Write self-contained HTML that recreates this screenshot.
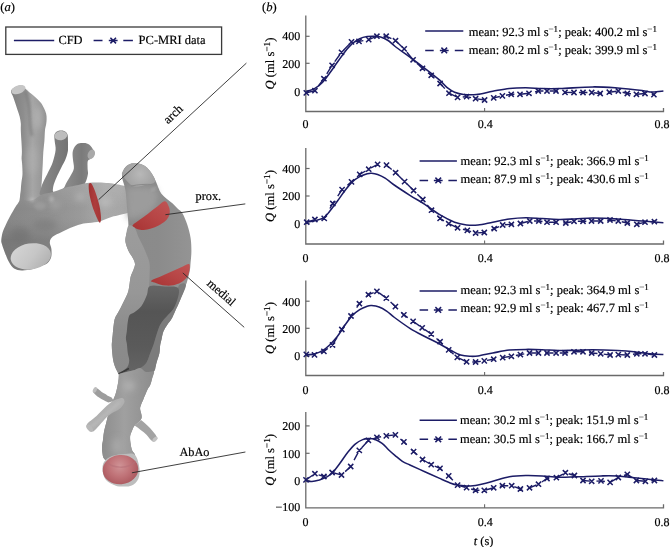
<!DOCTYPE html><html><head><meta charset="utf-8"><style>html,body{margin:0;padding:0;background:#fff;}svg{display:block;will-change:transform;} text{stroke:#000;stroke-width:0.18px;}</style></head><body><svg width="670" height="547" viewBox="0 0 670 547" font-family="Liberation Serif, serif" fill="#000" text-rendering="geometricPrecision">
<text x="262.0" y="11.2" font-size="12.6">(<tspan font-style="italic">b</tspan>)</text>
<path d="M305.8,15.5 V111.5 H663.5 V107.9" fill="none" stroke="#6a6a6a" stroke-width="1.3"/>
<path d="M484.6,111.5 v-3.6" stroke="#6a6a6a" stroke-width="1.1"/>
<path d="M305.8,36.3 h3.8" stroke="#6a6a6a" stroke-width="1.2"/>
<text x="300.3" y="40.4" font-size="12" text-anchor="end">400</text>
<path d="M305.8,63.3 h3.8" stroke="#6a6a6a" stroke-width="1.2"/>
<text x="300.3" y="67.7" font-size="12" text-anchor="end">200</text>
<path d="M305.8,91.0 h3.8" stroke="#6a6a6a" stroke-width="1.2"/>
<text x="300.3" y="95.8" font-size="12" text-anchor="end">0</text>
<text x="302.4" y="128.2" font-size="12">0</text>
<text x="477.8" y="128.2" font-size="12">0.4</text>
<text x="654.4" y="128.2" font-size="12">0.8</text>
<text transform="translate(273.6,63.5) rotate(-90)" font-size="12.6" text-anchor="middle"><tspan font-style="italic">Q</tspan> (ml s<tspan dy="-3.9" font-size="9.2">−1</tspan><tspan dy="3.9">)</tspan></text>
<path d="M306.3,91.4 C307.7,90.9 312.2,89.9 314.9,88.4 C317.6,86.9 319.9,85.1 322.4,82.5 C324.9,79.9 327.4,76.2 329.9,72.8 C332.4,69.4 334.8,65.8 337.3,62.3 C339.8,58.8 342.3,55.0 344.8,51.9 C347.3,48.8 349.7,45.9 352.2,43.7 C354.7,41.5 357.2,39.9 359.7,38.7 C362.2,37.5 364.7,37.0 367.2,36.6 C369.7,36.2 372.4,36.1 374.6,36.2 C376.8,36.3 378.4,36.3 380.6,37.0 C382.9,37.7 385.7,38.9 388.1,40.5 C390.5,42.1 391.6,43.7 395.2,46.5 C398.8,49.3 405.0,53.5 409.9,57.1 C414.8,60.7 419.8,64.5 424.8,68.3 C429.8,72.1 436.0,77.0 439.7,80.2 C443.4,83.4 444.7,85.7 447.2,87.7 C449.7,89.7 451.9,91.1 454.6,92.2 C457.3,93.3 460.0,94.0 463.6,94.4 C467.2,94.8 471.5,95.1 476.4,94.6 C481.3,94.1 487.3,92.3 492.8,91.3 C498.3,90.3 503.8,89.0 509.3,88.4 C514.8,87.8 520.2,87.7 525.7,87.7 C531.2,87.7 536.3,88.4 542.0,88.6 C547.7,88.8 551.5,88.9 560.0,88.6 C568.5,88.3 583.2,87.0 592.8,86.9 C602.4,86.8 609.3,87.4 617.5,88.0 C625.7,88.6 636.2,89.8 642.0,90.5 C647.8,91.2 648.4,91.9 652.0,92.0 C655.6,92.1 661.5,91.2 663.4,91.0" fill="none" stroke="#1c1c66" stroke-width="1.55"/>
<path d="M306.3,92.9 L314.9,90.7 L323.9,78.7 L332.1,65.3 L341.5,52.3 L351.5,41.9 L359.0,41.4 L368.7,39.6 L376.9,36.2 L386.2,36.2 L395.5,40.7 L404.2,48.9 L413.1,59.8 L422.5,68.3 L431.2,75.3 L440.1,83.5 L449.0,93.2 L457.6,97.4 L466.6,96.6 L475.6,98.7 L484.6,100.0 L493.7,97.9 L502.4,95.9 L511.2,94.3 L520.0,94.3 L529.0,93.3 L538.3,91.0 L547.0,91.0 L556.0,91.0 L565.0,92.4 L574.0,92.5 L583.0,92.5 L591.7,92.5 L600.2,93.5 L609.3,92.2 L618.3,91.0 L627.3,93.5 L636.4,94.3 L645.0,93.5 L653.9,94.6" fill="none" stroke="#1c1c66" stroke-width="1.4" stroke-dasharray="8.5 6.2"/>
<path d="M303.7,90.3L308.9,95.5M303.7,95.5L308.9,90.3M312.3,88.1L317.5,93.3M312.3,93.3L317.5,88.1M321.3,76.1L326.5,81.3M321.3,81.3L326.5,76.1M329.5,62.7L334.7,67.9M329.5,67.9L334.7,62.7M338.9,49.7L344.1,54.9M338.9,54.9L344.1,49.7M348.9,39.3L354.1,44.5M348.9,44.5L354.1,39.3M356.4,38.8L361.6,44.0M356.4,44.0L361.6,38.8M366.1,37.0L371.3,42.2M366.1,42.2L371.3,37.0M374.3,33.6L379.5,38.8M374.3,38.8L379.5,33.6M383.6,33.6L388.8,38.8M383.6,38.8L388.8,33.6M392.9,38.1L398.1,43.3M392.9,43.3L398.1,38.1M401.6,46.3L406.8,51.5M401.6,51.5L406.8,46.3M410.5,57.2L415.7,62.4M410.5,62.4L415.7,57.2M419.9,65.7L425.1,70.9M419.9,70.9L425.1,65.7M428.6,72.7L433.8,77.9M428.6,77.9L433.8,72.7M437.5,80.9L442.7,86.1M437.5,86.1L442.7,80.9M446.4,90.6L451.6,95.8M446.4,95.8L451.6,90.6M455.0,94.8L460.2,100.0M455.0,100.0L460.2,94.8M464.0,94.0L469.2,99.2M464.0,99.2L469.2,94.0M473.0,96.1L478.2,101.3M473.0,101.3L478.2,96.1M482.0,97.4L487.2,102.6M482.0,102.6L487.2,97.4M491.1,95.3L496.3,100.5M491.1,100.5L496.3,95.3M499.8,93.3L505.0,98.5M499.8,98.5L505.0,93.3M508.6,91.7L513.8,96.9M508.6,96.9L513.8,91.7M517.4,91.7L522.6,96.9M517.4,96.9L522.6,91.7M526.4,90.7L531.6,95.9M526.4,95.9L531.6,90.7M535.7,88.4L540.9,93.6M535.7,93.6L540.9,88.4M544.4,88.4L549.6,93.6M544.4,93.6L549.6,88.4M553.4,88.4L558.6,93.6M553.4,93.6L558.6,88.4M562.4,89.8L567.6,95.0M562.4,95.0L567.6,89.8M571.4,89.9L576.6,95.1M571.4,95.1L576.6,89.9M580.4,89.9L585.6,95.1M580.4,95.1L585.6,89.9M589.1,89.9L594.3,95.1M589.1,95.1L594.3,89.9M597.6,90.9L602.8,96.1M597.6,96.1L602.8,90.9M606.7,89.6L611.9,94.8M606.7,94.8L611.9,89.6M615.7,88.4L620.9,93.6M615.7,93.6L620.9,88.4M624.7,90.9L629.9,96.1M624.7,96.1L629.9,90.9M633.8,91.7L639.0,96.9M633.8,96.9L639.0,91.7M642.4,90.9L647.6,96.1M642.4,96.1L647.6,90.9M651.3,92.0L656.5,97.2M651.3,97.2L656.5,92.0" fill="none" stroke="#1c1c66" stroke-width="1.5"/>
<path d="M425.2,31.0 H463.3" stroke="#1c1c66" stroke-width="1.5"/>
<path d="M425.2,50.4 h8.5 M454.8,50.4 h8.5" stroke="#1c1c66" stroke-width="1.5"/>
<path d="M441.4,47.6L447.1,53.2M441.4,53.2L447.1,47.6 M439.85,50.4 h8.8" fill="none" stroke="#1c1c66" stroke-width="1.5"/>
<text x="468.7" y="35.6" font-size="12.5">mean: 92.3 ml s<tspan dy="-3.8" font-size="9">−1</tspan><tspan dy="3.8">; peak: 400.2 ml s</tspan><tspan dy="-3.8" font-size="9">−1</tspan></text>
<text x="468.7" y="53.8" font-size="12.5">mean: 80.2 ml s<tspan dy="-3.8" font-size="9">−1</tspan><tspan dy="3.8">; peak: 399.9 ml s</tspan><tspan dy="-3.8" font-size="9">−1</tspan></text>
<path d="M305.8,148.0 V244.0 H663.5 V240.4" fill="none" stroke="#6a6a6a" stroke-width="1.3"/>
<path d="M484.6,244.0 v-3.6" stroke="#6a6a6a" stroke-width="1.1"/>
<path d="M305.8,168.5 h3.8" stroke="#6a6a6a" stroke-width="1.2"/>
<text x="300.3" y="172.6" font-size="12" text-anchor="end">400</text>
<path d="M305.8,196.0 h3.8" stroke="#6a6a6a" stroke-width="1.2"/>
<text x="300.3" y="199.8" font-size="12" text-anchor="end">200</text>
<path d="M305.8,223.5 h3.8" stroke="#6a6a6a" stroke-width="1.2"/>
<text x="300.3" y="227.5" font-size="12" text-anchor="end">0</text>
<text x="302.4" y="261.9" font-size="12">0</text>
<text x="477.8" y="261.9" font-size="12">0.4</text>
<text x="654.4" y="261.9" font-size="12">0.8</text>
<text transform="translate(273.6,196.0) rotate(-90)" font-size="12.6" text-anchor="middle"><tspan font-style="italic">Q</tspan> (ml s<tspan dy="-3.9" font-size="9.2">−1</tspan><tspan dy="3.9">)</tspan></text>
<path d="M306.7,222.2 C308.1,221.9 312.0,221.4 314.9,220.7 C317.8,219.9 321.4,219.3 323.9,217.7 C326.4,216.1 327.7,213.7 329.9,211.0 C332.1,208.3 334.8,204.7 337.3,201.3 C339.8,197.9 342.3,194.0 344.8,190.8 C347.3,187.6 349.7,184.3 352.2,181.9 C354.7,179.5 357.2,178.0 359.7,176.6 C362.2,175.2 365.2,174.3 367.2,173.7 C369.2,173.1 369.9,173.1 371.6,173.2 C373.3,173.3 375.4,173.6 377.6,174.4 C379.9,175.2 382.5,176.4 385.1,178.1 C387.8,179.8 389.4,181.6 393.5,184.5 C397.6,187.4 404.7,192.0 409.9,195.3 C415.1,198.6 419.8,201.1 424.8,204.3 C429.8,207.5 434.7,211.7 439.7,214.7 C444.7,217.7 450.1,220.5 454.6,222.2 C459.1,223.9 462.7,224.4 466.6,224.9 C470.5,225.4 473.6,225.4 478.0,225.0 C482.4,224.6 487.6,223.2 492.8,222.2 C498.0,221.2 503.8,219.7 509.3,218.9 C514.8,218.2 520.2,217.8 525.7,217.7 C531.2,217.6 536.6,218.3 542.1,218.6 C547.6,218.9 553.0,219.3 558.5,219.4 C564.0,219.5 569.3,219.2 575.0,219.0 C580.7,218.8 585.7,218.0 592.8,218.0 C599.9,218.0 609.3,218.4 617.5,218.9 C625.7,219.4 634.5,220.4 642.1,221.0 C649.8,221.6 659.9,222.4 663.4,222.7" fill="none" stroke="#1c1c66" stroke-width="1.55"/>
<path d="M306.7,222.2 L314.9,219.5 L324.2,218.4 L332.8,203.5 L342.1,189.6 L351.5,181.9 L359.7,174.4 L368.7,169.2 L377.6,164.4 L386.5,165.1 L395.6,172.7 L404.6,181.6 L413.6,190.5 L422.8,199.5 L431.5,210.2 L440.1,218.4 L448.7,223.7 L457.6,227.8 L467.3,230.4 L475.6,233.0 L484.3,232.5 L494.2,228.7 L502.7,225.0 L511.4,224.3 L520.4,223.5 L529.8,221.0 L538.8,221.0 L547.0,222.2 L556.1,222.2 L565.8,223.0 L574.0,221.3 L583.0,221.3 L591.5,221.0 L600.7,221.0 L610.0,220.0 L618.3,221.0 L627.3,223.0 L636.8,224.3 L645.0,222.2 L654.4,221.7" fill="none" stroke="#1c1c66" stroke-width="1.4" stroke-dasharray="8.5 6.2"/>
<path d="M304.1,219.6L309.3,224.8M304.1,224.8L309.3,219.6M312.3,216.9L317.5,222.1M312.3,222.1L317.5,216.9M321.6,215.8L326.8,221.0M321.6,221.0L326.8,215.8M330.2,200.9L335.4,206.1M330.2,206.1L335.4,200.9M339.5,187.0L344.7,192.2M339.5,192.2L344.7,187.0M348.9,179.3L354.1,184.5M348.9,184.5L354.1,179.3M357.1,171.8L362.3,177.0M357.1,177.0L362.3,171.8M366.1,166.6L371.3,171.8M366.1,171.8L371.3,166.6M375.0,161.8L380.2,167.0M375.0,167.0L380.2,161.8M383.9,162.5L389.1,167.7M383.9,167.7L389.1,162.5M393.0,170.1L398.2,175.3M393.0,175.3L398.2,170.1M402.0,179.0L407.2,184.2M402.0,184.2L407.2,179.0M411.0,187.9L416.2,193.1M411.0,193.1L416.2,187.9M420.2,196.9L425.4,202.1M420.2,202.1L425.4,196.9M428.9,207.6L434.1,212.8M428.9,212.8L434.1,207.6M437.5,215.8L442.7,221.0M437.5,221.0L442.7,215.8M446.1,221.1L451.3,226.3M446.1,226.3L451.3,221.1M455.0,225.2L460.2,230.4M455.0,230.4L460.2,225.2M464.7,227.8L469.9,233.0M464.7,233.0L469.9,227.8M473.0,230.4L478.2,235.6M473.0,235.6L478.2,230.4M481.7,229.9L486.9,235.1M481.7,235.1L486.9,229.9M491.6,226.1L496.8,231.3M491.6,231.3L496.8,226.1M500.1,222.4L505.3,227.6M500.1,227.6L505.3,222.4M508.8,221.7L514.0,226.9M508.8,226.9L514.0,221.7M517.8,220.9L523.0,226.1M517.8,226.1L523.0,220.9M527.2,218.4L532.4,223.6M527.2,223.6L532.4,218.4M536.2,218.4L541.4,223.6M536.2,223.6L541.4,218.4M544.4,219.6L549.6,224.8M544.4,224.8L549.6,219.6M553.5,219.6L558.7,224.8M553.5,224.8L558.7,219.6M563.2,220.4L568.4,225.6M563.2,225.6L568.4,220.4M571.4,218.7L576.6,223.9M571.4,223.9L576.6,218.7M580.4,218.7L585.6,223.9M580.4,223.9L585.6,218.7M588.9,218.4L594.1,223.6M588.9,223.6L594.1,218.4M598.1,218.4L603.3,223.6M598.1,223.6L603.3,218.4M607.4,217.4L612.6,222.6M607.4,222.6L612.6,217.4M615.7,218.4L620.9,223.6M615.7,223.6L620.9,218.4M624.7,220.4L629.9,225.6M624.7,225.6L629.9,220.4M634.2,221.7L639.4,226.9M634.2,226.9L639.4,221.7M642.4,219.6L647.6,224.8M642.4,224.8L647.6,219.6M651.8,219.1L657.0,224.3M651.8,224.3L657.0,219.1" fill="none" stroke="#1c1c66" stroke-width="1.5"/>
<path d="M419.6,161.0 H456.9" stroke="#1c1c66" stroke-width="1.5"/>
<path d="M419.6,180.4 h8.5 M448.4,180.4 h8.5" stroke="#1c1c66" stroke-width="1.5"/>
<path d="M435.4,177.6L441.1,183.2M435.4,183.2L441.1,177.6 M433.85,180.4 h8.8" fill="none" stroke="#1c1c66" stroke-width="1.5"/>
<text x="460.6" y="164.6" font-size="12.5">mean: 92.3 ml s<tspan dy="-3.8" font-size="9">−1</tspan><tspan dy="3.8">; peak: 366.9 ml s</tspan><tspan dy="-3.8" font-size="9">−1</tspan></text>
<text x="460.6" y="183.0" font-size="12.5">mean: 87.9 ml s<tspan dy="-3.8" font-size="9">−1</tspan><tspan dy="3.8">; peak: 430.6 ml s</tspan><tspan dy="-3.8" font-size="9">−1</tspan></text>
<path d="M305.8,280.5 V375.5 H663.5 V371.9" fill="none" stroke="#6a6a6a" stroke-width="1.3"/>
<path d="M484.6,375.5 v-3.6" stroke="#6a6a6a" stroke-width="1.1"/>
<path d="M305.8,301.2 h3.8" stroke="#6a6a6a" stroke-width="1.2"/>
<text x="300.3" y="305.6" font-size="12" text-anchor="end">400</text>
<path d="M305.8,328.3 h3.8" stroke="#6a6a6a" stroke-width="1.2"/>
<text x="300.3" y="332.9" font-size="12" text-anchor="end">200</text>
<path d="M305.8,356.0 h3.8" stroke="#6a6a6a" stroke-width="1.2"/>
<text x="300.3" y="360.4" font-size="12" text-anchor="end">0</text>
<text x="302.4" y="393.9" font-size="12">0</text>
<text x="477.8" y="393.9" font-size="12">0.4</text>
<text x="654.4" y="393.9" font-size="12">0.8</text>
<text transform="translate(273.6,328.0) rotate(-90)" font-size="12.6" text-anchor="middle"><tspan font-style="italic">Q</tspan> (ml s<tspan dy="-3.9" font-size="9.2">−1</tspan><tspan dy="3.9">)</tspan></text>
<path d="M306.3,354.9 C307.7,354.7 312.2,354.4 314.9,353.7 C317.6,353.0 319.9,352.2 322.4,350.7 C324.9,349.2 327.4,347.1 329.9,344.7 C332.4,342.3 334.8,339.7 337.3,336.5 C339.8,333.3 342.3,328.8 344.8,325.3 C347.3,321.8 349.7,318.2 352.2,315.6 C354.7,313.0 357.2,311.2 359.7,309.6 C362.2,308.0 365.2,306.9 367.2,306.2 C369.2,305.5 369.6,305.5 371.6,305.6 C373.6,305.8 376.6,306.2 379.1,307.1 C381.6,308.0 384.0,309.4 386.6,311.1 C389.2,312.8 390.6,314.6 394.5,317.5 C398.4,320.4 404.8,325.1 409.9,328.3 C414.9,331.5 419.8,333.9 424.8,336.5 C429.8,339.1 435.2,341.6 439.7,344.0 C444.2,346.4 448.1,348.8 451.6,350.7 C455.1,352.6 457.6,354.2 460.6,355.1 C463.6,356.0 466.7,356.2 469.6,356.3 C472.5,356.4 474.1,356.6 478.0,356.0 C481.9,355.4 487.6,354.0 492.8,353.0 C498.0,352.0 503.8,350.6 509.3,350.0 C514.8,349.4 520.2,349.4 525.7,349.4 C531.2,349.3 536.6,349.5 542.1,349.7 C547.6,349.9 553.0,350.4 558.5,350.5 C564.0,350.6 569.3,350.4 575.0,350.3 C580.7,350.2 585.7,349.7 592.8,349.7 C599.9,349.7 610.6,350.1 617.5,350.5 C624.4,350.9 628.4,351.2 633.9,351.8 C639.4,352.4 645.4,353.3 650.3,353.8 C655.2,354.3 661.2,354.5 663.4,354.6" fill="none" stroke="#1c1c66" stroke-width="1.55"/>
<path d="M306.3,354.4 L314.5,354.9 L323.9,351.4 L332.5,345.0 L341.8,329.5 L351.0,316.0 L359.4,303.7 L368.4,294.7 L376.9,291.3 L386.3,298.1 L395.4,306.6 L403.9,314.9 L413.1,321.3 L422.2,327.8 L431.2,334.0 L440.1,341.7 L448.7,349.9 L457.3,357.4 L466.6,361.8 L475.6,362.0 L484.3,360.9 L493.7,359.2 L502.7,357.6 L511.4,356.3 L520.4,354.6 L529.5,353.0 L538.5,353.0 L547.0,353.0 L556.1,353.0 L565.0,353.0 L574.0,351.8 L583.0,351.8 L591.7,353.0 L600.7,353.8 L610.1,355.0 L618.3,354.6 L627.3,355.0 L636.8,353.8 L645.0,353.8 L654.4,355.0" fill="none" stroke="#1c1c66" stroke-width="1.4" stroke-dasharray="8.5 6.2"/>
<path d="M303.7,351.8L308.9,357.0M303.7,357.0L308.9,351.8M311.9,352.3L317.1,357.5M311.9,357.5L317.1,352.3M321.3,348.8L326.5,354.0M321.3,354.0L326.5,348.8M329.9,342.4L335.1,347.6M329.9,347.6L335.1,342.4M339.2,326.9L344.4,332.1M339.2,332.1L344.4,326.9M348.4,313.4L353.6,318.6M348.4,318.6L353.6,313.4M356.8,301.1L362.0,306.3M356.8,306.3L362.0,301.1M365.8,292.1L371.0,297.3M365.8,297.3L371.0,292.1M374.3,288.7L379.5,293.9M374.3,293.9L379.5,288.7M383.7,295.5L388.9,300.7M383.7,300.7L388.9,295.5M392.8,304.0L398.0,309.2M392.8,309.2L398.0,304.0M401.3,312.3L406.5,317.5M401.3,317.5L406.5,312.3M410.5,318.7L415.7,323.9M410.5,323.9L415.7,318.7M419.6,325.2L424.8,330.4M419.6,330.4L424.8,325.2M428.6,331.4L433.8,336.6M428.6,336.6L433.8,331.4M437.5,339.1L442.7,344.3M437.5,344.3L442.7,339.1M446.1,347.3L451.3,352.5M446.1,352.5L451.3,347.3M454.7,354.8L459.9,360.0M454.7,360.0L459.9,354.8M464.0,359.2L469.2,364.4M464.0,364.4L469.2,359.2M473.0,359.4L478.2,364.6M473.0,364.6L478.2,359.4M481.7,358.3L486.9,363.5M481.7,363.5L486.9,358.3M491.1,356.6L496.3,361.8M491.1,361.8L496.3,356.6M500.1,355.0L505.3,360.2M500.1,360.2L505.3,355.0M508.8,353.7L514.0,358.9M508.8,358.9L514.0,353.7M517.8,352.0L523.0,357.2M517.8,357.2L523.0,352.0M526.9,350.4L532.1,355.6M526.9,355.6L532.1,350.4M535.9,350.4L541.1,355.6M535.9,355.6L541.1,350.4M544.4,350.4L549.6,355.6M544.4,355.6L549.6,350.4M553.5,350.4L558.7,355.6M553.5,355.6L558.7,350.4M562.4,350.4L567.6,355.6M562.4,355.6L567.6,350.4M571.4,349.2L576.6,354.4M571.4,354.4L576.6,349.2M580.4,349.2L585.6,354.4M580.4,354.4L585.6,349.2M589.1,350.4L594.3,355.6M589.1,355.6L594.3,350.4M598.1,351.2L603.3,356.4M598.1,356.4L603.3,351.2M607.5,352.4L612.7,357.6M607.5,357.6L612.7,352.4M615.7,352.0L620.9,357.2M615.7,357.2L620.9,352.0M624.7,352.4L629.9,357.6M624.7,357.6L629.9,352.4M634.2,351.2L639.4,356.4M634.2,356.4L639.4,351.2M642.4,351.2L647.6,356.4M642.4,356.4L647.6,351.2M651.8,352.4L657.0,357.6M651.8,357.6L657.0,352.4" fill="none" stroke="#1c1c66" stroke-width="1.5"/>
<path d="M419.6,291.0 H456.9" stroke="#1c1c66" stroke-width="1.5"/>
<path d="M419.6,309.9 h8.5 M448.4,309.9 h8.5" stroke="#1c1c66" stroke-width="1.5"/>
<path d="M435.4,307.1L441.1,312.7M435.4,312.7L441.1,307.1 M433.85,309.9 h8.8" fill="none" stroke="#1c1c66" stroke-width="1.5"/>
<text x="460.6" y="293.9" font-size="12.5">mean: 92.3 ml s<tspan dy="-3.8" font-size="9">−1</tspan><tspan dy="3.8">; peak: 364.9 ml s</tspan><tspan dy="-3.8" font-size="9">−1</tspan></text>
<text x="460.6" y="312.2" font-size="12.5">mean: 92.9 ml s<tspan dy="-3.8" font-size="9">−1</tspan><tspan dy="3.8">; peak: 467.7 ml s</tspan><tspan dy="-3.8" font-size="9">−1</tspan></text>
<path d="M305.8,412.0 V507.9 H663.5 V504.29999999999995" fill="none" stroke="#6a6a6a" stroke-width="1.3"/>
<path d="M484.6,507.9 v-3.6" stroke="#6a6a6a" stroke-width="1.1"/>
<path d="M305.8,425.9 h3.8" stroke="#6a6a6a" stroke-width="1.2"/>
<text x="300.3" y="430.4" font-size="12" text-anchor="end">200</text>
<path d="M305.8,453.3 h3.8" stroke="#6a6a6a" stroke-width="1.2"/>
<text x="300.3" y="457.8" font-size="12" text-anchor="end">100</text>
<path d="M305.8,480.5 h3.8" stroke="#6a6a6a" stroke-width="1.2"/>
<text x="300.3" y="484.6" font-size="12" text-anchor="end">0</text>
<text x="300.3" y="511.4" font-size="12" text-anchor="end">−100</text>
<text x="302.4" y="526.0" font-size="12">0</text>
<text x="477.8" y="526.0" font-size="12">0.4</text>
<text x="654.4" y="526.0" font-size="12">0.8</text>
<text transform="translate(273.6,459.9) rotate(-90)" font-size="12.6" text-anchor="middle"><tspan font-style="italic">Q</tspan> (ml s<tspan dy="-3.9" font-size="9.2">−1</tspan><tspan dy="3.9">)</tspan></text>
<path d="M306.0,480.7 C307.0,480.8 309.7,481.5 311.9,481.4 C314.1,481.3 316.9,480.6 319.4,479.9 C321.9,479.1 324.7,478.1 326.9,476.9 C329.1,475.7 330.6,474.9 332.8,472.5 C335.0,470.1 337.8,466.2 340.3,462.8 C342.8,459.4 345.3,455.4 347.8,452.3 C350.3,449.2 352.7,446.2 355.2,444.1 C357.7,442.0 360.4,440.5 362.7,439.6 C364.9,438.7 366.7,438.7 368.7,438.6 C370.7,438.6 372.4,438.5 374.6,439.3 C376.8,440.1 379.8,441.7 382.1,443.4 C384.4,445.1 386.4,447.7 388.5,449.7 C390.6,451.7 392.6,453.4 394.9,455.3 C397.2,457.2 399.9,459.7 402.4,461.3 C404.9,462.9 406.2,463.3 409.9,465.0 C413.6,466.7 419.8,469.5 424.8,471.7 C429.8,473.9 435.5,476.5 439.7,478.4 C443.9,480.3 447.1,481.8 450.1,482.9 C453.1,484.0 454.9,484.6 457.6,485.1 C460.4,485.6 463.6,485.8 466.6,485.9 C469.6,486.0 471.1,486.4 475.5,485.6 C479.9,484.8 487.2,482.8 492.8,481.3 C498.4,479.8 503.8,477.8 509.3,476.8 C514.8,475.8 520.2,475.6 525.7,475.5 C531.2,475.4 536.6,475.6 542.1,475.9 C547.6,476.2 552.8,477.0 558.5,477.2 C564.2,477.4 569.3,477.0 576.4,476.8 C583.5,476.6 594.1,476.0 601.0,475.9 C607.9,475.8 612.0,475.7 617.5,476.0 C623.0,476.3 628.4,477.1 633.9,477.7 C639.4,478.3 645.4,479.1 650.3,479.6 C655.2,480.1 661.2,480.6 663.4,480.8" fill="none" stroke="#1c1c66" stroke-width="1.55"/>
<path d="M306.0,479.9 L314.9,473.7 L323.9,476.5 L332.1,472.5 L341.5,475.0 L350.7,466.5 L359.3,450.4 L368.4,440.4 L376.9,437.4 L386.3,435.9 L395.4,434.9 L403.9,441.9 L413.6,451.6 L422.5,459.5 L431.2,464.7 L440.0,468.4 L448.7,475.9 L457.6,485.1 L466.6,487.6 L475.6,490.3 L484.3,490.3 L493.7,487.8 L502.4,485.7 L511.7,485.7 L520.4,489.0 L529.5,487.8 L538.5,484.2 L547.0,478.5 L556.4,477.7 L565.4,472.7 L574.4,475.5 L583.0,480.5 L591.7,481.3 L601.0,480.9 L610.1,482.4 L618.3,477.5 L627.3,474.4 L636.4,480.5 L645.4,481.3 L654.4,480.5" fill="none" stroke="#1c1c66" stroke-width="1.4" stroke-dasharray="8.5 6.2"/>
<path d="M303.4,477.3L308.6,482.5M303.4,482.5L308.6,477.3M312.3,471.1L317.5,476.3M312.3,476.3L317.5,471.1M321.3,473.9L326.5,479.1M321.3,479.1L326.5,473.9M329.5,469.9L334.7,475.1M329.5,475.1L334.7,469.9M338.9,472.4L344.1,477.6M338.9,477.6L344.1,472.4M348.1,463.9L353.3,469.1M348.1,469.1L353.3,463.9M356.7,447.8L361.9,453.0M356.7,453.0L361.9,447.8M365.8,437.8L371.0,443.0M365.8,443.0L371.0,437.8M374.3,434.8L379.5,440.0M374.3,440.0L379.5,434.8M383.7,433.3L388.9,438.5M383.7,438.5L388.9,433.3M392.8,432.3L398.0,437.5M392.8,437.5L398.0,432.3M401.3,439.3L406.5,444.5M401.3,444.5L406.5,439.3M411.0,449.0L416.2,454.2M411.0,454.2L416.2,449.0M419.9,456.9L425.1,462.1M419.9,462.1L425.1,456.9M428.6,462.1L433.8,467.3M428.6,467.3L433.8,462.1M437.4,465.8L442.6,471.0M437.4,471.0L442.6,465.8M446.1,473.3L451.3,478.5M446.1,478.5L451.3,473.3M455.0,482.5L460.2,487.7M455.0,487.7L460.2,482.5M464.0,485.0L469.2,490.2M464.0,490.2L469.2,485.0M473.0,487.7L478.2,492.9M473.0,492.9L478.2,487.7M481.7,487.7L486.9,492.9M481.7,492.9L486.9,487.7M491.1,485.2L496.3,490.4M491.1,490.4L496.3,485.2M499.8,483.1L505.0,488.3M499.8,488.3L505.0,483.1M509.1,483.1L514.3,488.3M509.1,488.3L514.3,483.1M517.8,486.4L523.0,491.6M517.8,491.6L523.0,486.4M526.9,485.2L532.1,490.4M526.9,490.4L532.1,485.2M535.9,481.6L541.1,486.8M535.9,486.8L541.1,481.6M544.4,475.9L549.6,481.1M544.4,481.1L549.6,475.9M553.8,475.1L559.0,480.3M553.8,480.3L559.0,475.1M562.8,470.1L568.0,475.3M562.8,475.3L568.0,470.1M571.8,472.9L577.0,478.1M571.8,478.1L577.0,472.9M580.4,477.9L585.6,483.1M580.4,483.1L585.6,477.9M589.1,478.7L594.3,483.9M589.1,483.9L594.3,478.7M598.4,478.3L603.6,483.5M598.4,483.5L603.6,478.3M607.5,479.8L612.7,485.0M607.5,485.0L612.7,479.8M615.7,474.9L620.9,480.1M615.7,480.1L620.9,474.9M624.7,471.8L629.9,477.0M624.7,477.0L629.9,471.8M633.8,477.9L639.0,483.1M633.8,483.1L639.0,477.9M642.8,478.7L648.0,483.9M642.8,483.9L648.0,478.7M651.8,477.9L657.0,483.1M651.8,483.1L657.0,477.9" fill="none" stroke="#1c1c66" stroke-width="1.5"/>
<path d="M419.6,420.2 H456.9" stroke="#1c1c66" stroke-width="1.5"/>
<path d="M419.6,439.3 h8.5 M448.4,439.3 h8.5" stroke="#1c1c66" stroke-width="1.5"/>
<path d="M435.4,436.5L441.1,442.1M435.4,442.1L441.1,436.5 M433.85,439.3 h8.8" fill="none" stroke="#1c1c66" stroke-width="1.5"/>
<text x="460.0" y="424.2" font-size="12.5">mean: 30.2 ml s<tspan dy="-3.8" font-size="9">−1</tspan><tspan dy="3.8">; peak: 151.9 ml s</tspan><tspan dy="-3.8" font-size="9">−1</tspan></text>
<text x="460.0" y="442.8" font-size="12.5">mean: 30.5 ml s<tspan dy="-3.8" font-size="9">−1</tspan><tspan dy="3.8">; peak: 166.7 ml s</tspan><tspan dy="-3.8" font-size="9">−1</tspan></text>
<text x="473.8" y="545.3" font-size="12.4"><tspan font-style="italic">t</tspan> (s)</text>
<text x="0.3" y="11.2" font-size="12.6">(<tspan font-style="italic">a</tspan>)</text>
<rect x="5.8" y="27" width="215.8" height="27.4" fill="none" stroke="#3a3a3a" stroke-width="1.3"/>
<path d="M13.9,40.6 H54.2" stroke="#1c1c66" stroke-width="1.5"/>
<text x="58.4" y="43.9" font-size="12.4">CFD</text>
<path d="M93.6,40.6 H102.5 M123.3,40.6 H132.9" stroke="#1c1c66" stroke-width="1.5"/>
<path d="M110.4,37.8L116.0,43.4M110.4,43.4L116.0,37.8 M108.8,40.6 h8.8" fill="none" stroke="#1c1c66" stroke-width="1.5"/>
<text x="138.6" y="43.9" font-size="12.5">PC-MRI data</text>
<g id="aorta"><defs>
<linearGradient id="gBCA" x1="11" y1="0" x2="47" y2="0" gradientUnits="userSpaceOnUse">
 <stop offset="0" stop-color="#7e7e7e"/><stop offset="0.35" stop-color="#8e8e8e"/><stop offset="0.6" stop-color="#a6a6a6"/><stop offset="1" stop-color="#909090"/></linearGradient>
<linearGradient id="gLCCA" x1="40" y1="0" x2="68" y2="0" gradientUnits="userSpaceOnUse">
 <stop offset="0" stop-color="#8a8a8a"/><stop offset="1" stop-color="#737373"/></linearGradient>
<linearGradient id="gLSA" x1="69" y1="0" x2="94" y2="0" gradientUnits="userSpaceOnUse">
 <stop offset="0" stop-color="#888"/><stop offset="0.5" stop-color="#7b7b7b"/><stop offset="1" stop-color="#8a8a8a"/></linearGradient>
<linearGradient id="gArch" x1="0" y1="0" x2="135" y2="0" gradientUnits="userSpaceOnUse">
 <stop offset="0" stop-color="#848484"/><stop offset="0.35" stop-color="#8e8e8e"/><stop offset="0.6" stop-color="#999"/><stop offset="0.78" stop-color="#a9a9a9"/><stop offset="1" stop-color="#a4a4a4"/></linearGradient>
<linearGradient id="gArchV" x1="0" y1="183" x2="0" y2="240" gradientUnits="userSpaceOnUse">
 <stop offset="0" stop-color="#fff" stop-opacity="0.10"/><stop offset="0.45" stop-color="#fff" stop-opacity="0.0"/><stop offset="1" stop-color="#000" stop-opacity="0.10"/></linearGradient>
<filter id="bl1" x="-50%" y="-50%" width="200%" height="200%"><feGaussianBlur stdDeviation="1.6"/></filter>
<filter id="bl2" x="-50%" y="-50%" width="200%" height="200%"><feGaussianBlur stdDeviation="3"/></filter>
<linearGradient id="gArchR" x1="0" y1="183" x2="0" y2="223" gradientUnits="userSpaceOnUse">
 <stop offset="0" stop-color="#a0a0a0"/><stop offset="0.4" stop-color="#b0b0b0"/><stop offset="1" stop-color="#8e8e8e"/></linearGradient>
<radialGradient id="gDome" cx="140" cy="174" r="20" gradientUnits="userSpaceOnUse">
 <stop offset="0" stop-color="#b8b8b8"/><stop offset="1" stop-color="#9a9a9a"/></radialGradient>
<linearGradient id="gAsc" x1="15" y1="244" x2="40" y2="270" gradientUnits="userSpaceOnUse">
 <stop offset="0" stop-color="#d4d4d4"/><stop offset="0.6" stop-color="#c6c6c6"/><stop offset="1" stop-color="#b4b4b4"/></linearGradient>
<linearGradient id="gStrip" x1="0" y1="226" x2="0" y2="374" gradientUnits="userSpaceOnUse">
 <stop offset="0" stop-color="#9c9c9c"/><stop offset="0.45" stop-color="#979797"/><stop offset="0.7" stop-color="#8c8c8c"/><stop offset="1" stop-color="#8a8a8a"/></linearGradient>
<linearGradient id="gDesc" x1="125" y1="0" x2="192" y2="0" gradientUnits="userSpaceOnUse">
 <stop offset="0" stop-color="#8a8a8a"/><stop offset="0.5" stop-color="#8b8b8b"/><stop offset="1" stop-color="#949494"/></linearGradient>
<linearGradient id="gDark" x1="0" y1="286" x2="0" y2="372" gradientUnits="userSpaceOnUse">
 <stop offset="0" stop-color="#666"/><stop offset="0.3" stop-color="#555"/><stop offset="0.7" stop-color="#5a5a5a"/><stop offset="1" stop-color="#646464"/></linearGradient>
<linearGradient id="gAbd" x1="103" y1="0" x2="150" y2="0" gradientUnits="userSpaceOnUse">
 <stop offset="0" stop-color="#8e8e8e"/><stop offset="0.45" stop-color="#a0a0a0"/><stop offset="1" stop-color="#8f8f8f"/></linearGradient>
<linearGradient id="gRen" x1="0" y1="0" x2="1" y2="1">
 <stop offset="0" stop-color="#a8a8a8"/><stop offset="0.5" stop-color="#b2b2b2"/><stop offset="1" stop-color="#9c9c9c"/></linearGradient>
<radialGradient id="gAb" cx="120" cy="466" r="19" gradientUnits="userSpaceOnUse">
 <stop offset="0" stop-color="#cf9396"/><stop offset="0.55" stop-color="#c07378"/><stop offset="1" stop-color="#ad5a60"/></radialGradient>

<linearGradient id="gRed" x1="1" y1="0" x2="0" y2="1"><stop offset="0" stop-color="#c25252"/><stop offset="0.5" stop-color="#b84242"/><stop offset="1" stop-color="#a83030"/></linearGradient>
<linearGradient id="gRedA" x1="0" y1="0" x2="1" y2="0"><stop offset="0" stop-color="#a03030"/><stop offset="0.5" stop-color="#ad3d3d"/><stop offset="1" stop-color="#a43636"/></linearGradient>
</defs><path d="M11.0,92.0 C11.2,93.3 12.5,95.0 13.2,96.9 C13.9,98.8 14.7,101.3 15.4,103.5 C16.1,105.7 16.8,107.9 17.5,110.1 C18.2,112.3 19.1,114.5 19.7,116.7 C20.2,118.9 20.6,121.1 20.8,123.3 C21.0,125.5 20.7,127.0 20.8,130.0 C20.9,132.9 21.2,137.3 21.4,141.0 C21.6,144.7 21.9,149.0 21.9,151.9 C21.9,154.8 21.6,156.3 21.6,158.5 C21.7,160.7 22.1,162.4 22.2,165.0 C22.3,167.6 22.6,171.0 22.5,173.9 C22.4,176.8 21.7,179.9 21.4,182.6 C21.1,185.3 20.9,187.4 20.8,190.0 C20.7,192.6 19.4,195.8 20.6,198.0 C21.8,200.2 24.4,203.0 28.0,203.0 C31.6,203.0 39.8,200.2 42.0,198.0 C44.2,195.8 41.1,192.6 41.1,190.0 C41.1,187.4 41.5,185.3 41.7,182.6 C41.9,179.9 42.0,177.2 42.2,173.9 C42.4,170.6 42.6,166.6 42.8,162.9 C43.0,159.2 43.0,155.6 43.3,151.9 C43.6,148.2 44.1,144.7 44.4,141.0 C44.7,137.3 44.7,132.8 45.0,130.0 C45.3,127.2 45.8,126.2 46.1,124.4 C46.4,122.6 46.6,120.7 46.6,118.9 C46.6,117.1 46.6,115.2 46.1,113.4 C45.6,111.6 44.8,109.7 43.9,107.9 C43.0,106.1 42.1,104.2 40.6,102.4 C39.1,100.6 37.1,98.7 35.1,96.9 C33.1,95.1 30.1,92.9 28.5,91.5 C26.9,90.1 26.3,89.5 25.2,88.5 C24.1,87.5 23.4,85.9 22.0,85.6 C20.6,85.2 18.1,85.8 16.5,86.4 C14.9,87.0 13.2,88.1 12.3,89.0 C11.4,89.9 10.8,90.7 11.0,92.0Z" fill="url(#gBCA)" />
<ellipse cx="18.4" cy="89.6" rx="7.4" ry="4.2" transform="rotate(-20 18.4 89.6)" fill="#c6c6c6" />
<path d="M25.5,91 C28,100 30,110 30,120 C30,126 31,130 32,136" fill="none" stroke="#6e6e6e" stroke-width="2.6" opacity="0.6" filter="url(#bl1)"/>
<g filter="url(#bl2)" opacity="0.6"><ellipse cx="38" cy="118" rx="4" ry="12" fill="#bdbdbd"/><ellipse cx="32" cy="160" rx="6" ry="14" fill="#b0b0b0"/></g>
<path d="M54.3,136.5 C54.3,137.9 54.6,139.7 54.8,141.9 C55.0,144.2 55.9,146.7 55.6,150.0 C55.3,153.3 54.0,158.2 52.8,161.9 C51.6,165.6 49.7,168.8 48.2,172.0 C46.7,175.2 44.9,178.4 43.7,181.1 C42.5,183.8 41.4,186.1 40.9,188.4 C40.4,190.7 38.5,193.9 40.5,195.0 C42.5,196.1 51.0,195.8 53.0,195.0 C55.0,194.2 52.7,192.0 52.8,190.3 C52.9,188.6 53.1,187.0 53.7,184.8 C54.3,182.7 55.3,180.2 56.5,177.4 C57.7,174.7 59.5,171.4 61.0,168.3 C62.5,165.2 64.5,161.8 65.6,159.1 C66.7,156.4 67.3,153.8 67.7,152.0 C68.1,150.2 68.0,150.2 68.0,148.5 C68.0,146.8 68.1,144.3 68.0,141.9 C67.9,139.5 68.1,136.1 67.4,134.3 C66.7,132.5 65.6,131.6 64.0,131.0 C62.4,130.4 59.5,130.6 58.0,131.0 C56.5,131.4 55.6,132.6 55.0,133.5 C54.4,134.4 54.3,135.1 54.3,136.5Z" fill="url(#gLCCA)" />
<ellipse cx="60.8" cy="135.6" rx="6.4" ry="4.6" transform="rotate(-8 60.8 135.6)" fill="#bdbdbd" />
<path d="M72.9,150.7 C72.2,153.2 72.7,156.2 72.9,159.1 C73.1,162.0 74.2,165.7 73.9,168.3 C73.6,170.9 72.2,172.6 71.1,174.7 C70.0,176.8 68.5,179.1 67.4,181.1 C66.3,183.1 65.4,184.8 64.7,186.6 C64.0,188.4 59.8,191.1 63.0,192.0 C66.2,192.9 80.7,192.9 84.0,192.0 C87.3,191.1 82.9,187.9 83.0,186.6 C83.1,185.2 84.2,185.1 84.8,183.9 C85.4,182.7 86.2,181.0 86.7,179.3 C87.2,177.6 87.8,175.6 88.0,173.8 C88.2,172.0 87.6,170.4 87.6,168.3 C87.6,166.2 87.3,162.6 87.8,161.0 C88.3,159.4 89.4,159.9 90.5,158.9 C91.6,157.9 93.8,156.5 94.3,155.1 C94.8,153.7 94.5,152.4 93.7,150.7 C92.9,149.0 91.0,146.0 89.4,144.7 C87.8,143.4 85.9,143.1 83.9,143.0 C81.9,142.9 79.1,142.8 77.3,144.1 C75.5,145.4 73.6,148.2 72.9,150.7Z" fill="url(#gLSA)" />
<ellipse cx="91.3" cy="154.2" rx="3.4" ry="5.0" transform="rotate(25 91.3 154.2)" fill="#a9a9a9" />
<path d="M20.7,195.5 C19.7,195.6 20.1,199.3 19.2,201.2 C18.3,203.1 16.9,204.5 15.4,207.0 C13.9,209.5 11.7,213.2 10.2,216.0 C8.7,218.8 7.7,220.8 6.4,223.6 C5.1,226.4 3.5,229.8 2.6,232.6 C1.8,235.4 1.4,238.4 1.3,240.3 C1.2,242.2 1.3,241.8 1.9,244.0 C2.5,246.2 3.9,250.2 5.1,253.2 C6.3,256.2 7.5,259.6 9.0,262.1 C10.5,264.7 12.0,267.1 14.1,268.5 C16.2,269.9 18.8,270.3 21.8,270.4 C24.8,270.5 28.8,269.9 32.0,269.2 C35.2,268.5 38.4,267.0 41.0,266.0 C43.6,265.0 45.9,264.5 47.6,263.0 C49.3,261.5 50.6,259.3 51.2,257.0 C51.8,254.7 51.6,251.3 51.4,249.0 C51.2,246.7 49.9,244.8 49.8,243.0 C49.7,241.2 50.1,239.8 51.0,238.5 C51.9,237.2 53.0,236.4 55.0,235.2 C57.0,234.0 60.2,232.6 62.7,231.4 C65.2,230.2 67.5,229.1 70.0,228.0 C72.5,226.9 75.4,225.8 78.0,225.0 C80.6,224.2 82.4,223.8 85.6,223.3 C88.8,222.8 93.9,222.7 97.1,222.1 C100.3,221.5 102.0,220.5 104.8,219.5 C107.6,218.5 110.9,217.2 113.7,216.3 C116.5,215.5 118.7,215.2 121.4,214.4 C124.1,213.6 127.9,213.6 130.0,211.2 C132.1,208.8 134.0,203.9 134.0,200.0 C134.0,196.1 131.9,190.4 130.0,188.0 C128.1,185.6 125.0,186.2 122.7,185.6 C120.4,185.0 118.7,184.7 116.3,184.3 C113.9,183.9 111.6,183.3 108.6,183.0 C105.6,182.7 102.0,182.4 98.4,182.4 C94.8,182.4 90.7,182.5 86.9,183.0 C83.1,183.5 79.4,184.7 75.4,185.6 C71.4,186.5 66.7,187.3 62.9,188.4 C59.1,189.5 56.3,191.1 52.8,192.1 C49.3,193.1 45.1,193.3 42.0,194.5 C38.9,195.7 36.8,198.5 34.0,199.5 C31.2,200.5 27.2,201.2 25.0,200.5 C22.8,199.8 21.7,195.4 20.7,195.5Z" fill="url(#gArch)" />
<path d="M20.7,195.5 C19.7,195.6 20.1,199.3 19.2,201.2 C18.3,203.1 16.9,204.5 15.4,207.0 C13.9,209.5 11.7,213.2 10.2,216.0 C8.7,218.8 7.7,220.8 6.4,223.6 C5.1,226.4 3.5,229.8 2.6,232.6 C1.8,235.4 1.4,238.4 1.3,240.3 C1.2,242.2 1.3,241.8 1.9,244.0 C2.5,246.2 3.9,250.2 5.1,253.2 C6.3,256.2 7.5,259.6 9.0,262.1 C10.5,264.7 12.0,267.1 14.1,268.5 C16.2,269.9 18.8,270.3 21.8,270.4 C24.8,270.5 28.8,269.9 32.0,269.2 C35.2,268.5 38.4,267.0 41.0,266.0 C43.6,265.0 45.9,264.5 47.6,263.0 C49.3,261.5 50.6,259.3 51.2,257.0 C51.8,254.7 51.6,251.3 51.4,249.0 C51.2,246.7 49.9,244.8 49.8,243.0 C49.7,241.2 50.1,239.8 51.0,238.5 C51.9,237.2 53.0,236.4 55.0,235.2 C57.0,234.0 60.2,232.6 62.7,231.4 C65.2,230.2 67.5,229.1 70.0,228.0 C72.5,226.9 75.4,225.8 78.0,225.0 C80.6,224.2 82.4,223.8 85.6,223.3 C88.8,222.8 93.9,222.7 97.1,222.1 C100.3,221.5 102.0,220.5 104.8,219.5 C107.6,218.5 110.9,217.2 113.7,216.3 C116.5,215.5 118.7,215.2 121.4,214.4 C124.1,213.6 127.9,213.6 130.0,211.2 C132.1,208.8 134.0,203.9 134.0,200.0 C134.0,196.1 131.9,190.4 130.0,188.0 C128.1,185.6 125.0,186.2 122.7,185.6 C120.4,185.0 118.7,184.7 116.3,184.3 C113.9,183.9 111.6,183.3 108.6,183.0 C105.6,182.7 102.0,182.4 98.4,182.4 C94.8,182.4 90.7,182.5 86.9,183.0 C83.1,183.5 79.4,184.7 75.4,185.6 C71.4,186.5 66.7,187.3 62.9,188.4 C59.1,189.5 56.3,191.1 52.8,192.1 C49.3,193.1 45.1,193.3 42.0,194.5 C38.9,195.7 36.8,198.5 34.0,199.5 C31.2,200.5 27.2,201.2 25.0,200.5 C22.8,199.8 21.7,195.4 20.7,195.5Z" fill="url(#gArchV)"/>
<g filter="url(#bl2)" opacity="0.55"><ellipse cx="80" cy="197" rx="5" ry="3.5" fill="#c4c4c4"/><ellipse cx="105" cy="202" rx="7" ry="5" fill="#c4c4c4"/><ellipse cx="55" cy="205" rx="5" ry="4" fill="#b0b0b0"/><ellipse cx="33" cy="200" rx="4" ry="3" fill="#b0b0b0"/></g>
<g filter="url(#bl1)" opacity="0.7"><ellipse cx="32" cy="199.5" rx="2.5" ry="1.6" fill="#c8c8c8"/><ellipse cx="51.5" cy="199" rx="2" ry="3" fill="#bdbdbd"/><ellipse cx="40" cy="206" rx="6" ry="4" fill="#a0a0a0"/></g>
<g filter="url(#bl2)" opacity="0.5"><ellipse cx="20" cy="235" rx="10" ry="8" fill="#6e6e6e"/><ellipse cx="45" cy="225" rx="12" ry="6" fill="#777"/></g>
<ellipse cx="30.8" cy="256.4" rx="20.3" ry="13.0" transform="rotate(-9 30.8 256.4)" fill="url(#gAsc)" />
<path d="M122.2,178.0 C121.8,174.9 122.1,173.6 122.8,171.6 C123.5,169.6 124.9,167.3 126.6,165.9 C128.3,164.5 130.7,163.6 133.0,163.3 C135.3,163.0 138.3,163.2 140.7,164.0 C143.0,164.8 145.2,166.1 147.1,167.8 C149.0,169.5 150.7,171.8 152.2,174.2 C153.7,176.5 155.0,179.6 156.1,181.9 C157.2,184.2 157.8,186.4 158.6,188.3 C159.4,190.2 159.9,191.7 161.2,193.4 C162.5,195.1 164.4,196.8 166.3,198.5 C168.2,200.2 170.8,201.9 172.7,203.6 C174.6,205.3 176.2,207.2 177.8,208.8 C179.4,210.4 180.8,210.5 182.4,213.2 C184.0,215.8 185.9,220.6 187.3,224.7 C188.7,228.8 189.9,233.5 190.6,237.9 C191.3,242.3 191.4,247.0 191.4,251.1 C191.4,255.2 190.9,259.3 190.6,262.6 C190.3,265.9 190.4,267.8 189.8,270.8 C189.2,273.8 188.0,278.3 187.3,280.7 C186.7,283.1 187.1,281.9 185.9,285.0 C184.8,288.1 182.2,295.2 180.4,299.6 C178.6,304.0 176.5,308.3 175.0,311.5 C173.5,314.7 172.9,316.5 171.6,318.8 C170.3,321.1 168.4,323.1 167.0,325.2 C165.6,327.3 164.3,329.3 163.4,331.6 C162.5,333.9 162.1,336.7 161.6,338.9 C161.1,341.1 160.6,342.6 160.2,345.0 C159.8,347.4 160.0,350.4 159.4,353.3 C158.8,356.2 157.5,359.3 156.6,362.4 C155.7,365.4 154.7,368.9 153.9,371.6 C153.1,374.4 152.6,376.7 152.0,378.9 C151.4,381.1 150.9,383.2 150.2,385.0 C149.4,386.8 148.7,387.2 147.5,389.6 C146.3,392.0 144.4,396.9 143.3,399.5 C142.2,402.1 141.5,403.4 141.0,405.0 C140.5,406.6 140.0,406.9 140.1,409.1 C140.2,411.3 142.4,415.6 141.5,418.3 C140.6,421.1 136.2,423.5 134.6,425.6 C133.0,427.7 132.7,429.3 131.9,431.1 C131.2,432.9 130.3,434.6 130.1,436.6 C129.9,438.6 130.2,440.8 130.5,443.0 C130.8,445.2 131.2,447.8 131.9,450.0 C132.7,452.2 135.7,454.0 135.0,456.0 C134.3,458.0 131.8,461.0 128.0,462.0 C124.2,463.0 116.0,462.5 112.0,462.0 C108.0,461.5 105.9,460.8 104.3,459.1 C102.7,457.4 102.7,454.2 102.3,452.0 C101.9,449.8 102.0,448.0 102.1,446.0 C102.2,444.0 102.7,442.3 103.0,440.0 C103.3,437.7 103.4,435.3 103.9,432.4 C104.5,429.5 105.5,425.8 106.3,422.5 C107.1,419.2 107.8,415.9 108.8,412.6 C109.8,409.3 111.0,405.8 112.1,402.8 C113.2,399.8 114.5,397.4 115.4,394.6 C116.3,391.8 117.0,388.4 117.5,386.0 C118.0,383.6 118.2,381.9 118.5,380.0 C118.8,378.1 119.4,376.0 119.1,374.3 C118.8,372.6 117.3,371.7 116.4,369.7 C115.5,367.7 114.4,365.1 113.7,362.4 C113.0,359.7 112.6,356.4 112.3,353.3 C112.0,350.2 111.7,347.2 111.8,344.1 C111.9,341.1 112.4,338.2 112.7,335.0 C113.0,331.8 113.3,327.8 113.7,325.0 C114.1,322.2 114.3,320.1 115.1,318.0 C115.9,315.9 116.9,314.9 118.4,312.1 C119.9,309.3 122.2,304.7 123.9,301.2 C125.6,297.7 127.3,295.0 128.4,291.0 C129.5,287.0 129.8,280.6 130.6,277.1 C131.4,273.6 132.8,272.0 133.5,269.8 C134.2,267.6 135.1,265.9 135.0,263.9 C134.9,261.9 133.9,260.2 132.8,258.0 C131.7,255.8 129.6,253.4 128.4,250.7 C127.2,248.0 125.9,244.7 125.5,242.0 C125.1,239.3 125.7,237.3 126.2,234.6 C126.7,231.9 128.3,230.3 128.4,225.9 C128.5,221.5 127.5,214.0 127.0,208.0 C126.5,202.0 126.2,195.0 125.4,190.0 C124.6,185.0 122.6,181.1 122.2,178.0Z" fill="url(#gDesc)" />
<g filter="url(#bl2)" opacity="0.75"><path d="M126,188 C135,186 148,186 156,189 C160,196 158,205 150,212 C142,217 133,219 127,219 Z" fill="#a2a2a2"/></g>
<path d="M151.5,190.5 L156,187.5" stroke="#c0c0c0" stroke-width="1.2" opacity="0.8" filter="url(#bl1)"/>
<path d="M128.4,225.9 C127.1,227.1 126.7,231.9 126.2,234.6 C125.7,237.3 125.1,239.3 125.5,242.0 C125.9,244.7 127.2,248.0 128.4,250.7 C129.6,253.4 131.7,255.8 132.8,258.0 C133.9,260.2 134.9,261.9 135.0,263.9 C135.1,265.9 134.2,267.6 133.5,269.8 C132.8,272.0 131.4,273.6 130.6,277.1 C129.8,280.6 129.5,287.0 128.4,291.0 C127.3,295.0 125.6,297.7 123.9,301.2 C122.2,304.7 119.9,309.3 118.4,312.1 C116.9,314.9 115.9,315.9 115.1,318.0 C114.3,320.1 114.1,322.2 113.7,325.0 C113.3,327.8 113.0,331.8 112.7,335.0 C112.4,338.2 111.9,341.1 111.8,344.1 C111.7,347.2 112.0,350.2 112.3,353.3 C112.6,356.4 113.0,359.7 113.7,362.4 C114.4,365.1 115.5,367.7 116.4,369.7 C117.3,371.7 118.2,374.0 119.1,374.3 C120.0,374.6 120.5,372.8 121.9,371.6 C123.3,370.4 126.2,368.8 127.4,367.0 C128.6,365.2 129.1,362.9 129.2,360.6 C129.3,358.3 128.2,356.1 127.8,353.3 C127.4,350.6 127.2,346.7 126.9,344.1 C126.6,341.6 125.9,340.1 125.9,338.0 C125.9,335.9 126.5,334.2 126.8,331.6 C127.1,329.0 127.2,325.1 127.7,322.4 C128.2,319.6 128.5,316.8 129.6,315.1 C130.7,313.4 132.1,313.9 134.1,312.4 C136.1,310.9 139.4,308.9 141.5,306.0 C143.6,303.1 145.7,298.2 146.9,295.0 C148.1,291.8 148.5,290.5 148.9,287.0 C149.3,283.5 149.5,278.0 149.6,274.1 C149.7,270.2 150.0,266.8 149.6,263.9 C149.2,261.0 148.4,259.3 147.4,256.6 C146.4,253.9 145.2,251.0 143.8,247.8 C142.4,244.6 140.3,241.0 138.7,237.6 C137.1,234.2 136.0,229.2 134.3,227.3 C132.6,225.4 129.8,224.7 128.4,225.9Z" fill="url(#gStrip)" />
<path d="M178.6,286.0 C180.4,282.5 185.6,282.7 185.9,285.0 C186.2,287.3 182.2,295.2 180.4,299.6 C178.6,304.0 176.5,308.3 175.0,311.5 C173.5,314.7 172.9,316.5 171.6,318.8 C170.3,321.1 168.4,323.1 167.0,325.2 C165.6,327.3 164.3,329.3 163.4,331.6 C162.5,333.9 162.1,336.7 161.6,338.9 C161.1,341.1 160.6,342.6 160.2,345.0 C159.8,347.4 160.0,350.4 159.4,353.3 C158.8,356.2 157.5,359.3 156.6,362.4 C155.7,365.4 155.7,370.0 153.9,371.6 C152.1,373.2 148.3,372.6 146.0,372.0 C143.7,371.4 140.1,369.5 140.2,367.9 C140.3,366.3 144.9,364.8 146.6,362.4 C148.3,360.0 149.0,356.3 150.2,353.3 C151.4,350.3 152.6,347.4 153.6,344.5 C154.6,341.6 155.2,338.9 156.1,336.1 C157.0,333.3 157.9,330.2 158.8,327.9 C159.7,325.6 160.1,324.5 161.6,322.4 C163.1,320.3 165.8,317.8 168.0,315.1 C170.2,312.4 173.2,310.9 175.0,306.0 C176.8,301.1 176.8,289.5 178.6,286.0Z" fill="#7c7c7c" />
<path d="M150.0,286.0 C147.0,287.4 148.3,291.7 146.9,295.0 C145.5,298.3 143.6,303.1 141.5,306.0 C139.4,308.9 136.1,310.9 134.1,312.4 C132.1,313.9 130.7,313.4 129.6,315.1 C128.5,316.8 128.2,319.6 127.7,322.4 C127.2,325.1 127.1,329.0 126.8,331.6 C126.5,334.2 125.9,335.9 125.9,338.0 C125.9,340.1 126.6,341.6 126.9,344.1 C127.2,346.7 127.4,350.6 127.8,353.3 C128.2,356.1 129.3,358.3 129.2,360.6 C129.1,362.9 128.6,365.2 127.4,367.0 C126.2,368.8 123.3,370.5 121.9,371.6 C120.5,372.7 118.6,373.2 119.1,373.4 C119.5,373.5 122.3,373.0 124.6,372.5 C126.9,372.0 130.3,371.4 132.9,370.6 C135.5,369.8 137.9,369.3 140.2,367.9 C142.5,366.5 144.9,364.8 146.6,362.4 C148.3,360.0 149.0,356.3 150.2,353.3 C151.4,350.3 152.6,347.4 153.6,344.5 C154.6,341.6 155.2,338.9 156.1,336.1 C157.0,333.3 157.9,330.2 158.8,327.9 C159.7,325.6 160.1,324.5 161.6,322.4 C163.1,320.3 165.8,317.8 168.0,315.1 C170.2,312.4 173.2,310.4 175.0,306.0 C176.8,301.6 180.3,291.9 178.6,288.7 C176.9,285.4 169.8,286.9 165.0,286.5 C160.2,286.1 153.0,284.6 150.0,286.0Z" fill="url(#gDark)" />
<path d="M118.5,374 C122,372.5 125,370.5 129,368.5" fill="none" stroke="#333" stroke-width="1.6" opacity="0.85"/>
<path d="M122.8,176.0 C121.1,173.6 122.2,173.3 122.8,171.6 C123.4,169.9 124.9,167.3 126.6,165.9 C128.3,164.5 130.7,163.6 133.0,163.3 C135.3,163.0 138.3,163.2 140.7,164.0 C143.0,164.8 145.2,166.1 147.1,167.8 C149.0,169.5 150.9,171.8 152.2,174.2 C153.5,176.6 156.2,180.2 155.0,182.0 C153.8,183.8 148.7,184.3 145.0,185.0 C141.3,185.7 136.7,187.5 133.0,186.0 C129.3,184.5 124.5,178.4 122.8,176.0Z" fill="url(#gDome)"/>
<path d="M131,186 C138,184.5 146,184 152,184.5" fill="none" stroke="#8a8a8a" stroke-width="1"/>
<path d="M119.1,374.3 C120.1,373.1 122.3,373.1 124.6,372.5 C126.9,371.9 130.3,371.4 132.9,370.6 C135.5,369.8 138.0,367.7 140.2,367.9 C142.4,368.1 143.7,371.4 146.0,372.0 C148.3,372.6 152.9,370.5 153.9,371.6 C154.9,372.8 152.6,376.7 152.0,378.9 C151.4,381.1 150.9,383.2 150.2,385.0 C149.4,386.8 148.7,387.2 147.5,389.6 C146.3,392.0 144.4,396.9 143.3,399.5 C142.2,402.1 141.5,403.4 141.0,405.0 C140.5,406.6 140.0,406.9 140.1,409.1 C140.2,411.3 142.4,415.6 141.5,418.3 C140.6,421.1 136.2,423.5 134.6,425.6 C133.0,427.7 132.7,429.3 131.9,431.1 C131.2,432.9 130.3,434.6 130.1,436.6 C129.9,438.6 130.2,440.8 130.5,443.0 C130.8,445.2 131.2,447.8 131.9,450.0 C132.7,452.2 135.7,454.0 135.0,456.0 C134.3,458.0 131.8,461.0 128.0,462.0 C124.2,463.0 116.0,462.5 112.0,462.0 C108.0,461.5 105.9,460.8 104.3,459.1 C102.7,457.4 102.7,454.2 102.3,452.0 C101.9,449.8 102.0,448.0 102.1,446.0 C102.2,444.0 102.7,442.3 103.0,440.0 C103.3,437.7 103.4,435.3 103.9,432.4 C104.5,429.5 105.5,425.8 106.3,422.5 C107.1,419.2 107.8,415.9 108.8,412.6 C109.8,409.3 111.0,405.8 112.1,402.8 C113.2,399.8 114.5,397.4 115.4,394.6 C116.3,391.8 117.0,388.4 117.5,386.0 C118.0,383.6 118.2,381.9 118.5,380.0 C118.8,378.1 118.1,375.6 119.1,374.3Z" fill="url(#gAbd)" />
<g filter="url(#bl2)"><ellipse cx="129" cy="386" rx="6" ry="5" fill="#b4b4b4" opacity="0.8"/><ellipse cx="117" cy="446" rx="5" ry="8" fill="#acacac" opacity="0.7"/></g>
<path d="M96.3,387.7 C99,389.5 101,391 101.7,392.1 C104,393.5 106,394.5 107.2,395.4 L111.6,397.5 L114,401 L108.3,402.5 C106,401.5 105,401 103.9,400.3 C101,398.6 99,397.5 97.4,396.4 C95,394.5 93.5,393 93,392.1 Z" fill="#9d9d9d"/>
<ellipse cx="94.9" cy="389.9" rx="3.0" ry="1.8" transform="rotate(-62 94.9 389.9)" fill="#bdbdbd" />
<path d="M86.6,425.0 C87.3,422.4 93.5,418.8 96.5,415.9 C99.5,413.0 102.0,410.2 104.7,407.7 C107.4,405.2 110.7,402.6 112.9,401.1 C115.1,399.7 116.3,399.5 118.0,399.0 C119.7,398.5 121.7,397.7 122.8,398.2 C123.9,398.7 124.7,400.5 124.5,402.0 C124.3,403.5 122.5,405.8 121.5,407.0 C120.5,408.2 120.1,408.5 118.7,409.4 C117.3,410.3 115.0,411.2 112.9,412.6 C110.8,414.0 108.5,415.5 106.3,417.6 C104.1,419.7 102.0,422.7 99.7,425.0 C97.4,427.3 94.5,431.6 92.3,431.6 C90.1,431.6 85.9,427.6 86.6,425.0Z" fill="url(#gRen)"/>
<path d="M90,428 L120,402" stroke="#bdbdbd" stroke-width="2.2" opacity="0.7" filter="url(#bl1)"/>
<ellipse cx="89.6" cy="428.2" rx="4.3" ry="2.3" transform="rotate(50 89.6 428.2)" fill="#b8b8b8" />
<path d="M141,420.1 C142.5,421 143.5,422 144.7,422.9 C147,425 148.5,426.5 150.2,428.3 C152,430.5 154,432.5 155.6,434.7 L157.5,438.4 L152.9,441.6 L151.1,440.2 C149,438 148,436.5 146.5,434.7 C144.5,433 143,431.5 141,430.2 C139,428.5 137,427 134.6,425.6 Z" fill="#a3a3a3"/>
<ellipse cx="155.0" cy="439.3" rx="3.2" ry="1.8" transform="rotate(-47 155.0 439.3)" fill="#c4c4c4" />
<path d="M104.0,462.0 C105.6,459.5 108.5,457.3 112.0,456.0 C115.5,454.7 121.2,454.2 125.0,454.0 C128.8,453.8 132.6,452.7 135.0,455.0 C137.4,457.3 138.8,463.9 139.4,467.9 C140.0,471.9 139.6,476.0 138.3,478.9 C137.0,481.8 134.3,484.2 131.7,485.5 C129.1,486.8 125.7,486.6 122.9,486.6 C120.2,486.6 118.0,486.6 115.2,485.5 C112.4,484.4 108.1,482.4 106.0,480.0 C103.9,477.6 102.9,474.0 102.6,471.0 C102.3,468.0 102.4,464.5 104.0,462.0Z" fill="#bdbdbd"/>
<ellipse cx="120.5" cy="469.6" rx="17.8" ry="14.6" transform="rotate(-5 120.5 469.6)" fill="url(#gAb)" />
<path d="M107,462 C112,468 128,470 136,461" fill="none" stroke="#b57078" stroke-width="1.5" opacity="0.6"/>
<path d="M88.7,184.9 C88.6,186.4 88.8,189.7 89.1,192.3 C89.4,194.9 90.1,197.8 90.8,200.6 C91.5,203.3 92.2,206.1 93.2,208.8 C94.2,211.5 95.5,214.8 96.5,217.0 C97.5,219.2 98.4,221.1 99.0,222.0 C99.6,222.9 99.9,222.8 100.2,222.4 C100.5,222.0 100.9,221.1 101.0,219.5 C101.1,217.9 100.9,215.2 100.6,212.9 C100.3,210.6 100.0,208.0 99.4,205.5 C98.9,203.0 98.0,200.6 97.3,198.1 C96.5,195.6 95.9,193.1 94.9,190.7 C94.0,188.3 92.4,184.9 91.6,183.7 C90.8,182.5 90.3,183.1 89.8,183.3 C89.3,183.5 88.8,183.4 88.7,184.9Z" fill="url(#gRedA)" />
<path d="M132.8,224.9 C133.8,223.7 137.5,221.5 140.0,219.6 C142.5,217.7 145.3,215.7 148.0,213.7 C150.7,211.7 153.2,209.7 156.0,207.6 C158.8,205.5 162.5,201.7 164.6,201.3 C166.7,200.9 167.4,203.8 168.3,205.4 C169.2,207.0 169.7,208.8 169.8,210.7 C169.9,212.6 169.4,214.9 168.7,216.6 C167.9,218.3 167.0,219.6 165.3,221.1 C163.6,222.6 161.0,224.3 158.6,225.6 C156.2,226.8 153.6,227.8 151.1,228.6 C148.6,229.3 145.9,230.0 143.7,230.1 C141.5,230.2 139.3,229.8 137.7,229.3 C136.1,228.8 134.8,227.8 134.0,227.1 C133.2,226.4 131.8,226.2 132.8,224.9Z" fill="url(#gRed)" opacity="0.96"/>
<path d="M151.3,280.7 C152.2,279.7 156.9,278.2 160.0,276.8 C163.1,275.4 166.7,273.8 170.0,272.3 C173.3,270.8 176.9,269.2 180.0,267.8 C183.1,266.4 186.7,264.3 188.3,264.0 C189.9,263.7 189.7,264.8 189.8,266.2 C189.9,267.6 189.5,270.3 189.0,272.2 C188.5,274.1 188.2,275.7 186.8,277.4 C185.4,279.1 183.0,281.3 180.8,282.6 C178.6,283.9 175.9,284.7 173.4,285.2 C170.9,285.7 168.2,285.7 165.9,285.6 C163.7,285.5 161.8,285.0 159.9,284.5 C158.0,284.0 156.1,283.2 154.7,282.6 C153.3,282.0 150.4,281.7 151.3,280.7Z" fill="url(#gRed)" opacity="0.96"/></g>
<g stroke="#2a2a2a" stroke-width="0.9" fill="none"><path d="M98.6,199.7 L246.4,63.1"/><path d="M165.4,214.7 L245.3,203.9"/><path d="M182.8,272.9 L244.2,327.3"/><path d="M131.9,472.8 L245.4,452"/></g>
<text transform="translate(168.0,124.4) rotate(-42.9)" font-size="12.4">arch</text>
<text x="195.5" y="199.6" font-size="12.3">prox.</text>
<text transform="translate(206.3,284.4) rotate(41.3)" font-size="12.3">medial</text>
<text x="179.4" y="455.9" font-size="12.3">AbAo</text>
</svg></body></html>
